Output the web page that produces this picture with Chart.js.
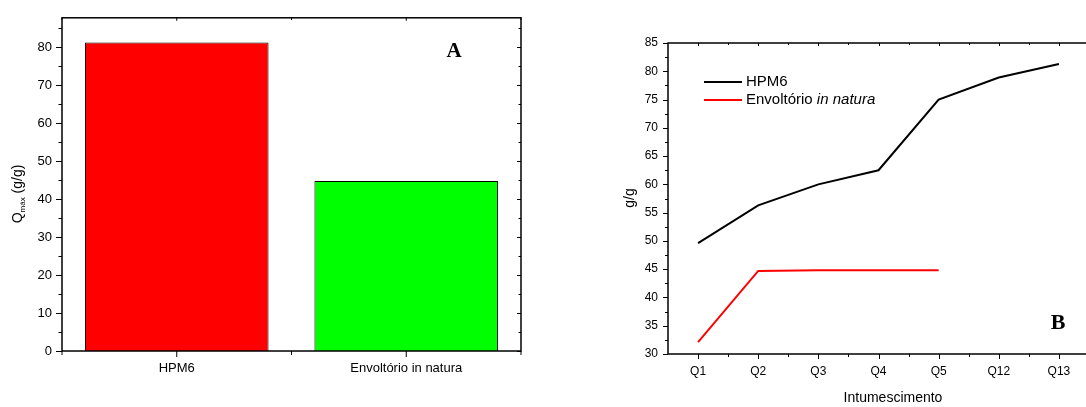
<!DOCTYPE html>
<html>
<head>
<meta charset="utf-8">
<script src="https://cdn.jsdelivr.net/npm/chart.js@4.4.1/dist/chart.umd.min.js"></script>
<style>
html,body{margin:0;padding:0;background:#fff;overflow:hidden;width:1086px;height:407px;}
.box{position:absolute;top:0;height:407px;}
</style>
</head>
<body>
<div class="box" style="left:0;width:543px;"><canvas id="c1"></canvas></div>
<div class="box" style="left:543px;width:560px;"><canvas id="c2"></canvas></div>
<script>
// ---- Data: chart A (bar) ----
const barCategories = ['HPM6', 'Envoltório in natura'];
const barValues = [81.3, 44.8];
const barColors = ['#ff0000', '#00ff00'];
const barYTicks = [0, 10, 20, 30, 40, 50, 60, 70, 80];

// ---- Data: chart B (line) ----
const qLabels = ['Q1', 'Q2', 'Q3', 'Q4', 'Q5', 'Q12', 'Q13'];
const hpmValues = [49.6, 56.3, 60.0, 62.5, 75.0, 78.9, 81.3];
const envValues = [32.1, 44.7, 44.8, 44.8, 44.8];
const lineYTicks = [30, 35, 40, 45, 50, 55, 60, 65, 70, 75, 80, 85];

const SANS = '"Liberation Sans", Arial, sans-serif';
const SERIF = '"Liberation Serif", "Times New Roman", serif';

Chart.defaults.font.family = SANS;
Chart.defaults.color = '#000';
Chart.defaults.animation = false;

function line(ctx, x1, y1, x2, y2) {
  ctx.beginPath(); ctx.moveTo(x1, y1); ctx.lineTo(x2, y2); ctx.stroke();
}

// ---------- Chart A ----------
const framePluginA = {
  id: 'frameA',
  afterDraw(chart) {
    const ctx = chart.ctx, a = chart.chartArea;
    const xs = chart.scales.x, ys = chart.scales.y;
    ctx.save();
    ctx.strokeStyle = '#000';
    ctx.lineWidth = 1.5;
    ctx.strokeRect(a.left, a.top, a.right - a.left, a.bottom - a.top);
    ctx.lineWidth = 1;
    // y ticks (left outward, right inward)
    for (let v = 0; v <= ys.max; v += 5) {
      const y = Math.round(ys.getPixelForValue(v)) + 0.5;
      const major = v % 10 === 0;
      line(ctx, a.left - (major ? 6 : 3.5), y, a.left, y);
      line(ctx, a.right, y, a.right - (major ? 4 : 2.5), y);
    }
    // x ticks
    const n = barCategories.length;
    const half = (xs.getPixelForValue(1) - xs.getPixelForValue(0)) / 2;
    for (let i = 0; i < n; i++) {
      const c = xs.getPixelForValue(i);
      line(ctx, c, a.bottom, c, a.bottom + 6);
      line(ctx, c, a.top, c, a.top + 3);
      [c - half, c + half].forEach(x => {
        line(ctx, x, a.bottom, x, a.bottom + 4);
        line(ctx, x, a.top, x, a.top + 2);
      });
    }
    // y-axis title: Q_máx (g/g)
    ctx.fillStyle = '#000';
    ctx.translate(18, 194);
    ctx.rotate(-Math.PI / 2);
    ctx.textBaseline = 'middle';
    ctx.font = '14px ' + SANS;
    const wQ = ctx.measureText('Q').width;
    const rest = ' (g/g)';
    const wR = ctx.measureText(rest).width;
    ctx.font = '8px ' + SANS;
    const wS = ctx.measureText('máx').width;
    let x0 = -(wQ + wS + wR) / 2;
    ctx.font = '14px ' + SANS;
    ctx.fillText('Q', x0, 0);
    ctx.font = '8px ' + SANS;
    ctx.fillText('máx', x0 + wQ, 5);
    ctx.font = '14px ' + SANS;
    ctx.fillText(rest, x0 + wQ + wS, 0);
    ctx.restore();
    // panel letter
    ctx.save();
    ctx.fillStyle = '#000';
    ctx.font = 'bold 21px ' + SERIF;
    ctx.textAlign = 'center';
    ctx.textBaseline = 'middle';
    ctx.fillText('A', 454, 52);
    ctx.restore();
  }
};

new Chart(document.getElementById('c1'), {
  type: 'bar',
  data: {
    labels: barCategories,
    datasets: [{
      data: barValues,
      backgroundColor: barColors,
      borderColor: '#000',
      borderWidth: 1,
      barPercentage: 0.8,
      categoryPercentage: 1.0
    }]
  },
  options: {
    responsive: true,
    maintainAspectRatio: false,
    layout: { padding: { top: 13, right: 22, left: 0, bottom: 0 } },
    plugins: { legend: { display: false }, tooltip: { enabled: false } },
    scales: {
      x: {
        type: 'category',
        offset: true,
        grid: { display: false, drawTicks: false },
        border: { display: false },
        ticks: { font: { size: 13 }, color: '#000', padding: 10, maxRotation: 0 },
        afterFit: s => { s.height = 56; }
      },
      y: {
        min: 0,
        max: 87.8,
        grid: { display: false, drawTicks: false },
        border: { display: false },
        afterBuildTicks: s => { s.ticks = barYTicks.map(v => ({ value: v })); },
        ticks: { font: { size: 13 }, color: '#000', padding: 10 },
        afterFit: s => { s.width = 62; }
      }
    }
  },
  plugins: [framePluginA]
});

// ---------- Chart B ----------
const framePluginB = {
  id: 'frameB',
  afterDraw(chart) {
    const ctx = chart.ctx, a = chart.chartArea;
    const xs = chart.scales.x, ys = chart.scales.y;
    ctx.save();
    ctx.strokeStyle = '#000';
    ctx.lineWidth = 1.5;
    ctx.strokeRect(a.left, a.top, a.right - a.left, a.bottom - a.top);
    ctx.lineWidth = 1;
    for (let v = 30; v <= 85; v += 2.5) {
      const y = Math.round(ys.getPixelForValue(v)) + 0.5;
      const major = v % 5 === 0;
      line(ctx, a.left - (major ? 5 : 3), y, a.left, y);
    }
    const half = (xs.getPixelForValue(1) - xs.getPixelForValue(0)) / 2;
    for (let i = 0; i < qLabels.length; i++) {
      const c = Math.round(xs.getPixelForValue(i)) + 0.5;
      line(ctx, c, a.bottom, c, a.bottom + 5);
      line(ctx, c, a.top, c, a.top + 3);
      const b = Math.round(xs.getPixelForValue(i) + half) + 0.5;
      line(ctx, b, a.bottom, b, a.bottom + 3);
      line(ctx, b, a.top, b, a.top + 2);
    }
    // legend
    const lx = 704 - 543;
    ctx.lineWidth = 2;
    ctx.strokeStyle = '#000';
    line(ctx, lx, 82, lx + 38, 82);
    ctx.strokeStyle = '#ff0000';
    line(ctx, lx, 100, lx + 38, 100);
    ctx.fillStyle = '#000';
    ctx.textBaseline = 'middle';
    ctx.font = '15px ' + SANS;
    ctx.fillText('HPM6', lx + 42, 82);
    const t1 = 'Envoltório ';
    ctx.fillText(t1, lx + 42, 100);
    const w1 = ctx.measureText(t1).width;
    ctx.font = 'italic 15px ' + SANS;
    ctx.fillText('in natura', lx + 42 + w1, 100);
    // axis titles
    ctx.font = '14px ' + SANS;
    ctx.textAlign = 'center';
    ctx.fillText('Intumescimento', 893 - 543, 398);
    ctx.save();
    ctx.translate(630 - 543, 198);
    ctx.rotate(-Math.PI / 2);
    ctx.fillText('g/g', 0, 0);
    ctx.restore();
    // panel letter
    ctx.font = 'bold 22px ' + SERIF;
    ctx.fillText('B', 1058 - 543, 323);
    ctx.restore();
  }
};

new Chart(document.getElementById('c2'), {
  type: 'line',
  data: {
    labels: qLabels,
    datasets: [
      { label: 'HPM6', data: hpmValues, borderColor: '#000', borderWidth: 2, pointRadius: 0, tension: 0, fill: false },
      { label: 'Envoltório in natura', data: envValues, borderColor: '#ff0000', borderWidth: 2, pointRadius: 0, tension: 0, fill: false }
    ]
  },
  options: {
    responsive: true,
    maintainAspectRatio: false,
    layout: { padding: { top: 43, right: 14, left: 0, bottom: 0 } },
    plugins: { legend: { display: false }, tooltip: { enabled: false } },
    scales: {
      x: {
        type: 'category',
        offset: true,
        grid: { display: false, drawTicks: false },
        border: { display: false },
        ticks: { font: { size: 12 }, color: '#000', padding: 10, maxRotation: 0 },
        afterFit: s => { s.height = 53; }
      },
      y: {
        min: 30,
        max: 85,
        grid: { display: false, drawTicks: false },
        border: { display: false },
        afterBuildTicks: s => { s.ticks = lineYTicks.map(v => ({ value: v })); },
        ticks: { font: { size: 12 }, color: '#000', padding: 10 },
        afterFit: s => { s.width = 125; }
      }
    }
  },
  plugins: [framePluginB]
});
</script>
</body>
</html>
